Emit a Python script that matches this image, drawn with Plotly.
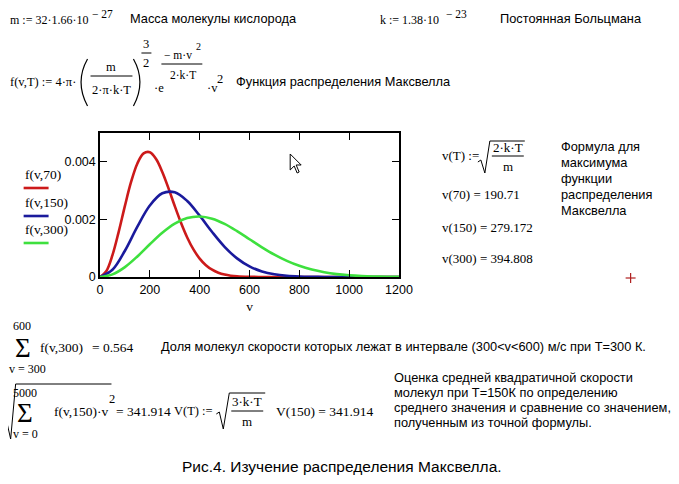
import plotly.graph_objects as go

# Data (v in m/s, f in s/m)
v_70 = [0, 25, 50, 75, 100, 125, 150, 175, 200, 225, 250, 275, 300, 325, 350, 375, 400, 425,
        450, 475, 500, 525, 550, 600, 650, 700, 800, 900, 1000, 1100, 1200]
f_70 = [0, 0.000200, 0.000759, 0.001568, 0.002471, 0.003308, 0.003943, 0.004292, 0.004333,
        0.004095, 0.003647, 0.003076, 0.002465, 0.001883, 0.001373, 0.000958, 0.000640,
        0.000410, 0.000252, 0.000148, 0.0000841, 0.0000459, 0.0000240, 0.0000059, 0.0000013,
        0.0000002, 0, 0, 0, 0, 0]
v_grid = [0, 50, 100, 150, 200, 250, 300, 350, 400, 450, 500, 550, 600, 650, 700, 750,
          800, 850, 900, 950, 1000, 1050, 1100, 1150, 1200]
f_150 = [0, 0.000251, 0.000912, 0.001749, 0.002483, 0.002907, 0.002942, 0.002639, 0.002130,
         0.001563, 0.001049, 0.000647, 0.000368, 0.000194, 0.0000945, 0.0000428, 0.0000180,
         0.0000071, 0.0000026, 0.0000009, 0.0000003, 0.0000001, 0, 0, 0]
f_300 = [0, 0.0000902, 0.000344, 0.000714, 0.001135, 0.001535, 0.001853, 0.002047, 0.002102,
         0.002026, 0.001844, 0.001593, 0.001311, 0.001030, 0.000775, 0.000559, 0.000387,
         0.000257, 0.000165, 0.000101, 0.0000600, 0.0000343, 0.0000189, 0.0000100, 0.0000051]
series_names = ["f(v,70)", "f(v,150)", "f(v,300)"]
series_colors = ["#cc1a1a", "#1a1a9c", "#3ee03e"]
x_ticks = [0, 200, 400, 600, 800, 1000, 1200]
y_ticks = [0, 0.002, 0.004]
y_tick_labels = ["0", "0.002", "0.004"]

W, H = 679, 484
OFF = 8  # page body margin of the browser
# plot box in target-picture pixels
PL, PR, PT, PB = 99.5, 399, 133, 277
L, R, T, B = PL - OFF, PR - OFF, PT - OFF, PB - OFF


def px(x):
    return (x - OFF - L) / (R - L)


def py(y):
    return (B - (y - OFF)) / (B - T)


SERIF = "Liberation Serif"
SANS = "Liberation Sans"
TS = 12.8  # text size

fig = go.Figure()
for name, xs, ys, col in zip(series_names, [v_70, v_grid, v_grid], [f_70, f_150, f_300],
                             series_colors):
    fig.add_trace(go.Scatter(x=xs, y=ys, mode="lines", name=name,
                             line=dict(color=col, width=2.6, shape="spline", smoothing=1.0)))

annotations = []
shapes = []


def text(x, y, s, size=TS, font=SANS, anchor="left", color="black"):
    annotations.append(dict(x=px(x), y=py(y), xref="paper", yref="paper", text=s,
                            showarrow=False, xanchor=anchor, yanchor="middle",
                            font=dict(family=font, size=size, color=color)))


def line(x0, y0, x1, y1, color="black", width=1):
    shapes.append(dict(type="line", xref="paper", yref="paper", x0=px(x0), y0=py(y0),
                       x1=px(x1), y1=py(y1), line=dict(color=color, width=width)))


def path(points, color="black", width=1, fill=None):
    d = "M " + " L ".join(f"{px(a):.5f},{py(b):.5f}" for a, b in points)
    if fill:
        d += " Z"
    shapes.append(dict(type="path", xref="paper", yref="paper", path=d,
                       line=dict(color=color, width=width),
                       fillcolor=fill if fill else "rgba(0,0,0,0)"))


def curve(p0, c, p1, width=1):
    d = (f"M {px(p0[0]):.5f},{py(p0[1]):.5f} Q {px(c[0]):.5f},{py(c[1]):.5f} "
         f"{px(p1[0]):.5f},{py(p1[1]):.5f}")
    shapes.append(dict(type="path", xref="paper", yref="paper", path=d,
                       line=dict(color="black", width=width)))


# ---- top: constants
text(7, 20, "m := 32·1.66·10", 12, SERIF)
text(89, 14, "− 27", 11.5, SERIF)
text(128, 19, "Масса молекулы кислорода")
text(378, 20, "k := 1.38·10", 12, SERIF)
text(444, 14, "− 23", 11.5, SERIF)
text(498, 19, "Постоянная Больцмана")

# ---- Maxwell function formula
text(7, 82, "f(v,T) := 4·π·", 12.5, SERIF)
curve((87, 59), (74, 82), (87, 106), 1.2)
curve((133, 59), (146, 82), (133, 106), 1.2)
text(111, 67, "m", 12.5, SERIF, "center")
line(90, 76, 132, 76)
text(111, 90, "2·π·k·T", 12.5, SERIF, "center")
text(146, 44, "3", 12.5, SERIF, "center")
line(141, 53, 151, 53)
text(146, 63, "2", 12.5, SERIF, "center")
text(152, 88, "·e", 12.5, SERIF)
text(178, 55, "− m·v", 11.5, SERIF, "center")
text(194, 47, "2", 10, SERIF)
line(161, 64, 202, 64)
text(183, 75, "2·k·T", 11.5, SERIF, "center")
text(205, 88, "·v", 12.5, SERIF)
text(215, 79, "2", 12.5, SERIF)
text(234, 82, "Функция распределения Максвелла")

# ---- legend (Mathcad-style labels with line swatches below)
leg_y = [174, 202, 229]
for name, yy, col in zip(series_names, leg_y, series_colors):
    text(22, yy, name, 13.5, SERIF)
    line(23, yy + 14, 48, yy + 14, col, 2.6)

# ---- mouse cursor
cx, cy = 290, 154
arrow = [(0, 0), (0, 16), (4, 12), (7, 19), (9, 18), (6, 11), (11, 11)]
path([(cx + a, cy + b) for a, b in arrow], "black", 1, "white")

# ---- right block: most probable speed
text(440, 155, "v(T) :=", 13, SERIF)
path([(478, 162), (481, 160), (485, 173), (490, 141), (525, 141)])
text(508, 147, "2·k·T", 13, SERIF, "center")
line(492, 156, 524, 156)
text(508, 166, "m", 13, SERIF, "center")
for i, s in enumerate(["Формула для", "максимума", "функции", "распределения", "Максвелла"]):
    text(559, 146 + 16 * i, s)
text(440, 194, "v(70) = 190.71", 13, SERIF)
text(440, 227, "v(150) = 279.172", 13, SERIF)
text(440, 258, "v(300) = 394.808", 13, SERIF)
line(626, 278, 636, 278, "#b02020", 1.2)
line(631, 273, 631, 283, "#b02020", 1.2)

# ---- bottom block: fraction of molecules
text(21, 326, "600", 12, SERIF, "center")
text(22, 348, "Σ", 27, SERIF, "center")
text(27, 369, "v = 300", 12, SERIF, "center")
text(37, 347, "f(v,300)", 13.5, SERIF)
text(89, 347, "= 0.564", 13.5, SERIF)
text(159, 346, "Доля молекул скорости которых лежат в интервале (300<v<600) м/с при Т=300 К.")

# ---- root mean square speed
path([(2, 419), (5, 417), (10, 439), (15, 384), (111, 384)])
text(24, 393, "5000", 12, SERIF, "center")
text(24, 413, "Σ", 27, SERIF, "center")
text(25, 434, "v = 0", 12, SERIF, "center")
text(51, 411, "f(v,150)·v", 13.5, SERIF)
text(107, 399, "2", 12.5, SERIF)
text(114, 411, "= 341.914", 13.5, SERIF)
text(172, 411, "V(T) :=", 12.5, SERIF)
path([(216, 414), (219, 412), (223, 429), (229, 393), (265, 393)])
text(247, 401, "3·k·T", 13, SERIF, "center")
line(231, 411, 263, 411)
text(247, 421, "m", 13, SERIF, "center")
text(274, 411, "V(150) = 341.914", 13.5, SERIF)
for i, s in enumerate(["Оценка средней квадратичной скорости",
                       "молекул при Т=150К по определению",
                       "среднего значения и сравнение со значением,",
                       "полученным из точной формулы."]):
    text(392, 377 + 15 * i, s)

# ---- caption
text(342, 466, "Рис.4. Изучение распределения Максвелла.", 15.5, SANS, "center")

fig.update_layout(
    width=W, height=H,
    margin=dict(l=L, r=W - R, t=T, b=H - B, pad=0),
    paper_bgcolor="white", plot_bgcolor="white",
    showlegend=False,
    annotations=annotations, shapes=shapes,
    xaxis=dict(range=[0, 1200], tickvals=x_ticks, ticks="inside", ticklen=7,
               tickcolor="black", showline=True, linecolor="black", linewidth=1.5,
               mirror="ticks", showgrid=False, zeroline=False,
               tickfont=dict(family=SANS, size=12.5, color="black"),
               title=dict(text="v", font=dict(family=SERIF, size=13.5, color="black"), standoff=6)),
    yaxis=dict(range=[0, 0.005], tickvals=y_ticks, ticktext=y_tick_labels, ticks="inside",
               ticklen=7, tickcolor="black", showline=True, linecolor="black", linewidth=1.5,
               mirror="ticks", showgrid=False, zeroline=False,
               tickfont=dict(family=SANS, size=12.5, color="black")),
)

fig.write_html("out.html")
